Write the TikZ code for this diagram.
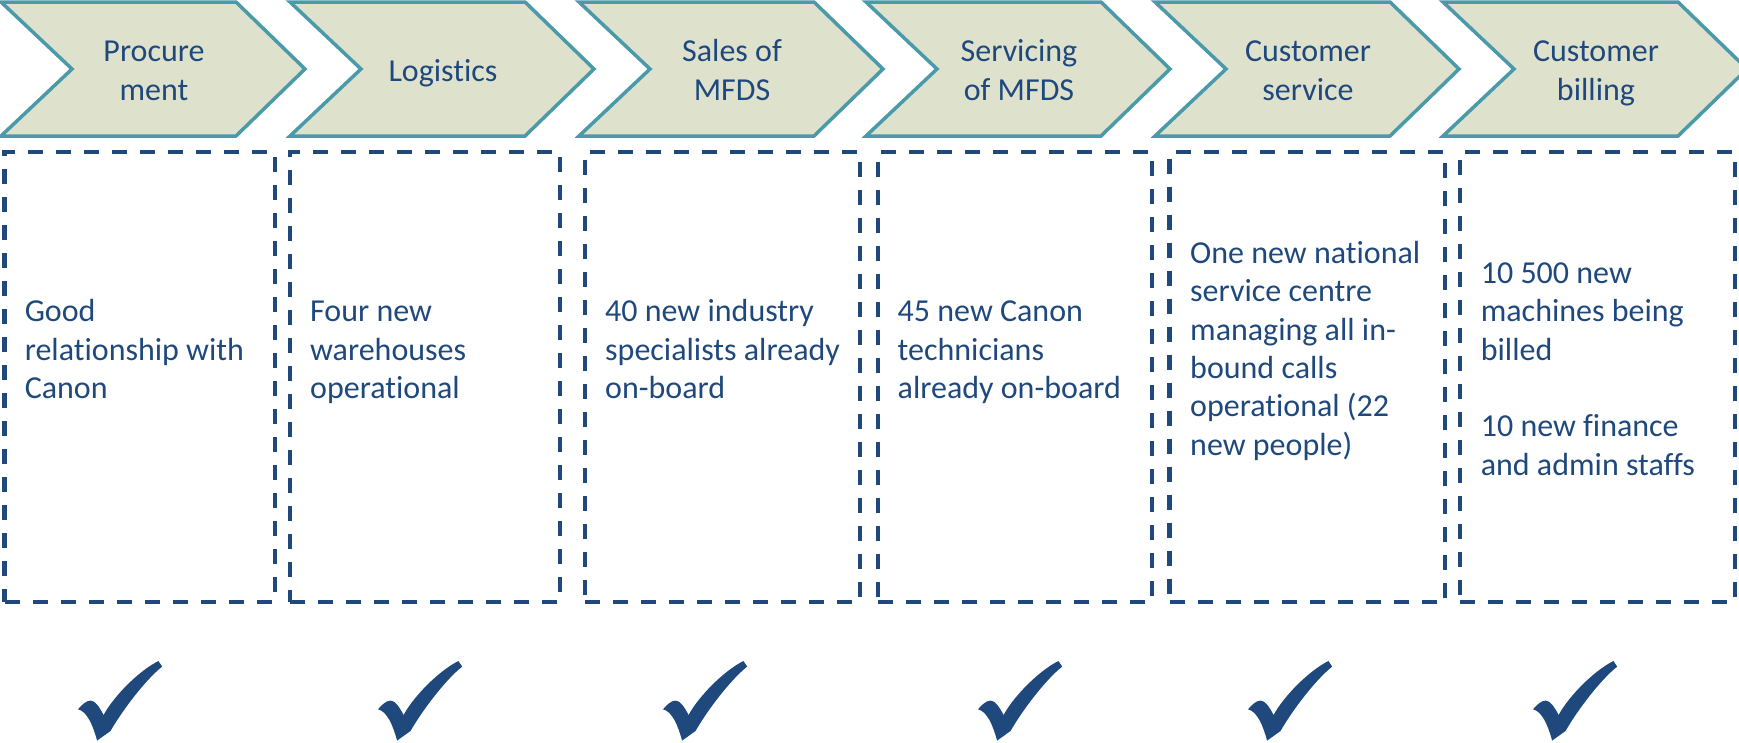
\documentclass[tikz,border=0pt]{standalone}
\usepackage{fontspec}
\setmainfont{Carlito}[Ligatures={NoCommon}]
\definecolor{navy}{RGB}{31,73,125}
\definecolor{chevfill}{RGB}{222,226,205}
\definecolor{chevline}{RGB}{75,154,170}
% zero-width strut that fixes the height of a node's first line
\newcommand\lnstrut{\rule{0pt}{24pt}}
\begin{document}
\begin{tikzpicture}[x=1pt,y=-1pt,
  chev/.style={draw=chevline, fill=chevfill, line width=3.5pt, line join=miter},
  stagetext/.style={anchor=north, inner sep=0pt, align=center, text=navy,
    font=\fontsize{32}{38.4}\selectfont},
  notebox/.style={draw=navy, line width=4.5pt, dash pattern=on 15pt off 13pt,
    minimum height=450pt, inner sep=0pt},
  notetext/.style={anchor=north west, inner sep=0pt, align=left, text=navy,
    font=\fontsize{32}{38.4}\selectfont},
  pics/tick/.style={code={
    \fill[navy] (0,0) .. controls (4,-4.5) and (8,-8.7) .. (12.6,-8.7)
      .. controls (17,-8.7) and (21,-3) .. (25.6,5.7)
      .. controls (35,-12) and (60,-38) .. (80.4,-48.3) -- (84.2,-42.7)
      .. controls (68,-30) and (45,0) .. (32.5,21.7) -- (19.1,31.3)
      .. controls (15,16) and (9,2) .. (0,0) -- cycle;
  }}
]
\useasboundingbox (0,0) rectangle (1739,742);

% process chevrons
\foreach \L/\nm in {1/c1,290/c2,579/c3,866/c4,1155/c5,1443/c6}{
  \draw[chev] (\L,2) -- ({\L+235},2) -- ({\L+304},69) -- ({\L+235},136)
    -- (\L,136) -- ({\L+71},69) -- cycle;
}
\node[stagetext] (s1) at (154,37.7) {\lnstrut Procure\\ment};
\node[stagetext] (s2) at (443,57.7) {\lnstrut Logistics};
\node[stagetext] (s3) at (732,37.7) {\lnstrut Sales of\\MFDS};
\node[stagetext] (s4) at (1019,37.7) {\lnstrut Servicing\\of MFDS};
\node[stagetext] (s5) at (1308,37.7) {\lnstrut Customer\\service};
\node[stagetext] (s6) at (1596,37.7) {\lnstrut Customer\\billing};

% dashed note boxes
\node[notebox, minimum width=270.4pt] (b1) at (139.8,377) {};
\node[notebox, minimum width=270pt] (b2) at (425,377) {};
\node[notebox, minimum width=275pt] (b3) at (722.5,377) {};
\node[notebox, minimum width=274pt] (b4) at (1015,377) {};
\node[notebox, minimum width=275.5pt] (b5) at (1307.25,377) {};
\node[notebox, minimum width=275pt] (b6) at (1597.5,377) {};

\node[notetext] (t1) at (24.6,297.7) {\lnstrut Good\\relationship with\\Canon};
\node[notetext] (t2) at (310,297.7) {\lnstrut Four new\\warehouses\\operational};
\node[notetext] (t3) at (605,297.7) {\lnstrut 40 new industry\\specialists already\\on-board};
\node[notetext] (t4) at (897.5,297.7) {\lnstrut 45 new Canon\\technicians\\already on-board};
\node[notetext] (t5) at (1190,239) {\lnstrut One new national\\service centre\\managing all in-\\bound calls\\operational (22\\new people)};
\node[notetext] (t6) at (1480.6,259) {\lnstrut 10 500 new\\machines being\\billed\\[38.4pt]10 new finance\\and admin staffs};

% check marks
\foreach \X in {78,378,663,978,1248,1533}{
  \pic at (\X,709.3) {tick};
}
\end{tikzpicture}
\end{document}
